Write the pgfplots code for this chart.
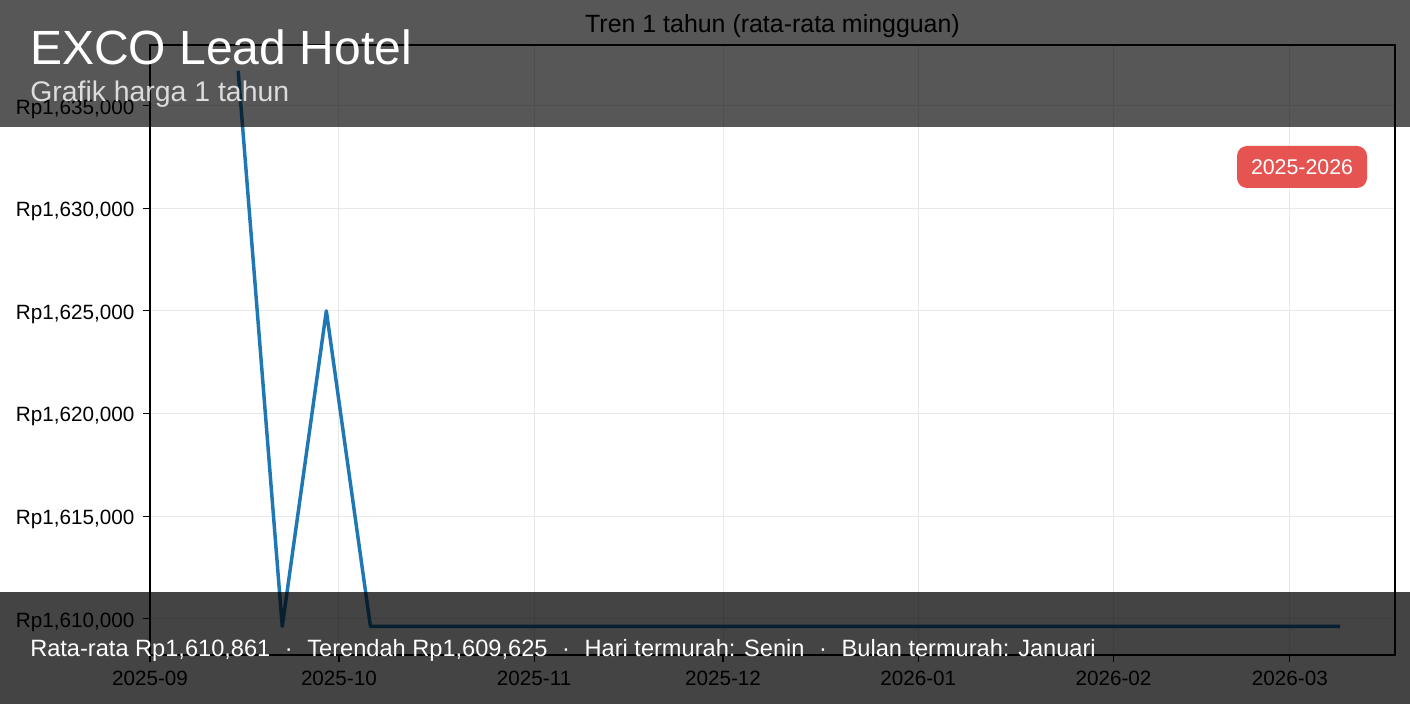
\documentclass[border=0pt]{standalone}
\usepackage{pgfplots}
\pgfplotsset{compat=1.18}
\usepackage{fontspec}
\setmainfont{Liberation Sans}
\definecolor{mplblue}{HTML}{1F77B4}
\definecolor{badgered}{HTML}{E55451}
\definecolor{subgray}{HTML}{DCDCDC}
\begin{document}
\begin{tikzpicture}[x=0.75pt,y=0.75pt]
\useasboundingbox (0,0) rectangle (1410,704);
\fill[white] (0,0) rectangle (1410,704);
\begin{axis}[
  at={(112.5pt,36.75pt)}, anchor=south west,
  scale only axis, width=933.75pt, height=457.5pt,
  xmin=0, xmax=197.7, ymin=1608231, ymax=1637958,
  xtick={0,30,61,91,122,153,181},
  xticklabels={2025-09,2025-10,2025-11,2025-12,2026-01,2026-02,2026-03},
  ytick={1610000,1615000,1620000,1625000,1630000,1635000},
  yticklabels={{Rp1,610,000},{Rp1,615,000},{Rp1,620,000},{Rp1,625,000},{Rp1,630,000},{Rp1,635,000}},
  scaled y ticks=false,
  grid=major,
  major grid style={draw=black!9, line width=0.75pt},
  axis line style={black, line width=1pt},
  tick align=outside, major tick length=5.25pt,
  tick style={black, line width=0.9pt},
  xtick pos=bottom, ytick pos=left,
  tick label style={font=\fontsize{15.5}{18}\selectfont},
  xticklabel style={yshift=-3pt},
  yticklabel style={xshift=-3pt, yshift=-2.5pt},
  title={Tren 1 tahun (rata-rata mingguan)},
  title style={font=\fontsize{18.7}{21}\selectfont, at={(0.5,1)}, anchor=base, yshift=3pt},
]
\addplot[color=mplblue, line width=2.6pt, line join=round] coordinates {
(14,1636700) (21,1609625) (28,1625000) (35,1609625) (42,1609625) (49,1609625)
(56,1609625) (63,1609625) (70,1609625) (77,1609625) (84,1609625) (91,1609625)
(98,1609625) (105,1609625) (112,1609625) (119,1609625) (126,1609625) (133,1609625)
(140,1609625) (147,1609625) (154,1609625) (161,1609625) (168,1609625) (175,1609625)
(182,1609625) (189,1609625)
};
\end{axis}
\fill[black, opacity=0.66] (0,577) rectangle (1410,704);
\fill[black, opacity=0.733] (0,0) rectangle (1410,112);
\node[anchor=base west, inner sep=0, text=white, font=\fontsize{36}{40}\selectfont] at (30,639) {EXCO Lead Hotel};
\node[anchor=base west, inner sep=0, text=subgray, font=\fontsize{21.3}{24}\selectfont] at (30,602) {Grafik harga 1 tahun};
\node[anchor=base west, inner sep=0, text=white, font=\fontsize{17.7}{20}\selectfont] at (30,48) {Rata-rata Rp1,610,861\hspace{0.62em}·\hspace{0.62em}Terendah Rp1,609,625\hspace{0.62em}·\hspace{0.62em}Hari termurah: Senin\hspace{0.62em}·\hspace{0.62em}Bulan termurah: Januari};
\node[fill=badgered, rounded corners=7.5pt, minimum width=97.5pt, minimum height=31.5pt, inner sep=0, text=white, font=\fontsize{16}{18}\selectfont] at (1302,537) {2025-2026};
\end{tikzpicture}
\end{document}
